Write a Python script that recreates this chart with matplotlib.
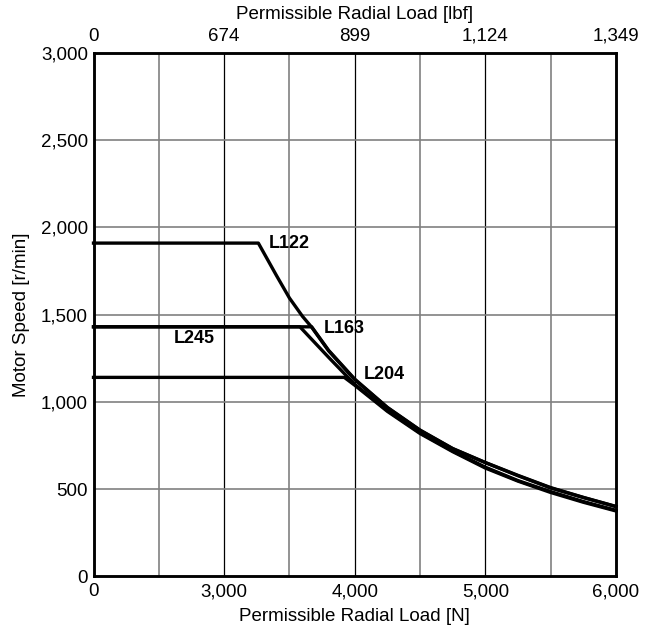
import numpy as np
import matplotlib
matplotlib.use("Agg")
import matplotlib.pyplot as plt

plt.rcParams['font.family'] = ['Liberation Sans', 'DejaVu Sans']

# ---- data ----
l122_x = [0, 3262, 3400, 3500, 3600, 3670, 3800, 4000, 4250, 4500, 4750, 5000, 5250, 5500, 5750, 6000]
l122_y = [1910, 1910, 1725, 1595, 1490, 1428, 1292, 1127, 966, 836, 731, 651, 576, 506, 451, 399]

l163_x = [0, 3670, 3800, 4000, 4250, 4500, 4750, 5000, 5250, 5500, 5750, 6000]
l163_y = [1430, 1430, 1295, 1130, 968, 838, 732, 652, 578, 508, 452, 400]

l245_x = [0, 3580, 3800, 4000, 4250, 4500, 4750, 5000, 5250, 5500, 5750, 6000]
l245_y = [1430, 1430, 1255, 1100, 950, 822, 718, 625, 548, 485, 428, 378]

l204_x = [0, 3920, 4000, 4250, 4500, 4750, 5000, 5250, 5500, 5750, 6000]
l204_y = [1140, 1140, 1095, 945, 818, 714, 620, 545, 480, 424, 374]

series_names = ["L122", "L163", "L245", "L204"]
label_pos = {"L122": (3340, 1910), "L163": (3765, 1421), "L245": (1850, 1364), "L204": (4066, 1157)}

x_major = [0, 3000, 4000, 5000, 6000]
x_minor = [1500, 3500, 4500, 5500]
x_labels = ["0", "3,000", "4,000", "5,000", "6,000"]
top_labels = ["0", "674", "899", "1,124", "1,349"]
y_ticks = [0, 500, 1000, 1500, 2000, 2500, 3000]
y_labels = ["0", "500", "1,000", "1,500", "2,000", "2,500", "3,000"]


def fwd(x):
    x = np.asarray(x, dtype=float)
    return np.where(x <= 3000, x / 1500.0, 2 + (x - 3000) / 500.0)


def inv(u):
    u = np.asarray(u, dtype=float)
    return np.where(u <= 2, u * 1500.0, 3000 + (u - 2) * 500.0)


FS = 13.5

fig = plt.figure(figsize=(6.53, 6.32), dpi=100)
ax = fig.add_axes([93.5 / 653, 1 - 576.2 / 632, (616 - 93.5) / 653, (576.2 - 53) / 632])
ax.set_xscale('function', functions=(fwd, inv))
ax.set_xlim(0, 6000)
ax.set_ylim(0, 3000)

# grid
for xv in x_minor:
    ax.axvline(xv, color='#808080', lw=1.2, zorder=1)
for xv in x_major[1:-1]:
    ax.axvline(xv, color='black', lw=0.9, zorder=1)
for yv in y_ticks[1:-1]:
    ax.axhline(yv, color='#808080', lw=1.2, zorder=1)

series = [(l122_x, l122_y), (l163_x, l163_y), (l245_x, l245_y), (l204_x, l204_y)]
for (xs, ys) in series:
    ax.plot(xs, ys, color='black', lw=2.4, zorder=3, clip_on=False)

for name in series_names:
    px, py = label_pos[name]
    ax.text(px, py, name, fontsize=13, fontweight='bold', ha='left', va='center', zorder=4)

ax.set_xticks(x_major)
ax.set_xticklabels(x_labels)
ax.set_xticks([], minor=True)
ax.set_yticks(y_ticks)
ax.set_yticklabels(y_labels)
ax.tick_params(axis='x', length=0, labelsize=FS, pad=5)
ax.tick_params(axis='y', length=0, labelsize=FS, pad=4)
ax.set_xlabel("Permissible Radial Load [N]", fontsize=FS, labelpad=6)
ax.set_ylabel("Motor Speed [r/min]", fontsize=FS, labelpad=8)

for s in ax.spines.values():
    s.set_linewidth(1.8)
    s.set_zorder(5)

top = ax.twiny()
top.set_xscale('function', functions=(fwd, inv))
top.set_xlim(0, 6000)
top.set_xticks(x_major)
top.set_xticklabels(top_labels)
top.set_xticks([], minor=True)
top.tick_params(axis='x', length=0, labelsize=FS, pad=6)
top.set_xlabel("Permissible Radial Load [lbf]", fontsize=FS, labelpad=6)
for s in top.spines.values():
    s.set_linewidth(1.8)

fig.savefig("out.png", dpi=100)
